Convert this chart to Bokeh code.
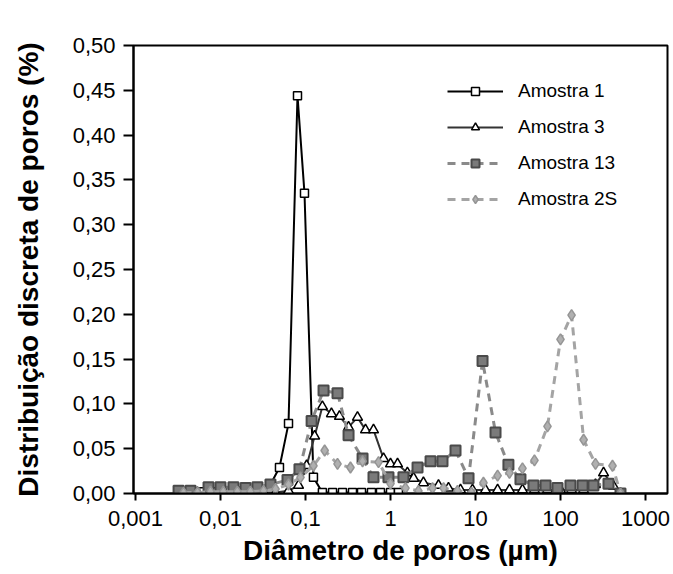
from bokeh.plotting import figure
from bokeh.models import Range1d, FixedTicker, Legend, LegendItem
from bokeh.embed import file_html
from bokeh.resources import INLINE

# ---- data (diameter in µm, discrete distribution in %) ----
diam_a1 = [0.00321, 0.00444, 0.00631, 0.00897, 0.0131, 0.0187, 0.0272, 0.0387, 0.0494, 0.0631,
           0.0805, 0.0973, 0.124, 0.158, 0.208, 0.272, 0.357, 0.456, 0.597, 0.762, 1.00, 1.24]
dist_a1 = [0.002, 0.002, 0.002, 0.002, 0.003, 0.003, 0.004, 0.010, 0.029, 0.078,
           0.444, 0.335, 0.018, 0.001, 0.001, 0.001, 0.001, 0.001, 0.001, 0.001, 0.001, 0.001]

diam_a3 = [0.00367, 0.00536, 0.00762, 0.0108, 0.0158, 0.0225, 0.0321, 0.0444, 0.0631, 0.0828,
           0.103, 0.128, 0.158, 0.202, 0.251, 0.321, 0.409, 0.508, 0.631, 0.828,
           1.00, 1.21, 1.58, 1.87, 2.44, 3.67, 4.81, 6.66, 9.22, 13.1,
           18.2, 25.1, 35.7, 49.4, 70.3, 100, 135, 187, 258, 321, 421, 508]
dist_a3 = [0.001, 0.001, 0.001, 0.001, 0.001, 0.001, 0.001, 0.001, 0.003, 0.009,
           0.031, 0.064, 0.097, 0.089, 0.086, 0.074, 0.085, 0.071, 0.071, 0.039,
           0.033, 0.033, 0.023, 0.017, 0.012, 0.009, 0.006, 0.004, 0.004, 0.004,
           0.004, 0.004, 0.004, 0.004, 0.004, 0.004, 0.004, 0.004, 0.010, 0.023, 0.008, 0.000]

diam_a13 = [0.00321, 0.00444, 0.00723, 0.0100, 0.0142, 0.0197, 0.0272, 0.0387, 0.0614, 0.0849,
            0.118, 0.163, 0.238, 0.321, 0.469, 0.631, 0.946, 1.42, 2.08, 2.96,
            4.09, 5.82, 8.28, 12.1, 17.2, 24.4, 33.8, 48.1, 66.7, 92.2,
            131, 182, 244, 367, 508]
dist_a13 = [0.003, 0.003, 0.007, 0.007, 0.007, 0.006, 0.007, 0.010, 0.015, 0.027,
            0.081, 0.115, 0.112, 0.065, 0.039, 0.018, 0.018, 0.018, 0.029, 0.036,
            0.036, 0.048, 0.017, 0.148, 0.068, 0.032, 0.016, 0.009, 0.009, 0.006,
            0.009, 0.009, 0.009, 0.011, 0.000]

diam_a2s = [0.00367, 0.00536, 0.00762, 0.0108, 0.0158, 0.0225, 0.0321, 0.0444, 0.0631, 0.0873,
            0.124, 0.168, 0.238, 0.338, 0.469, 0.723, 1.00, 1.50, 2.13, 3.12,
            4.21, 6.14, 8.97, 12.4, 18.2, 25.1, 35.7, 49.4, 70.3, 100,
            135, 187, 258, 409, 508]
dist_a2s = [0.001, 0.001, 0.002, 0.002, 0.002, 0.002, 0.003, 0.005, 0.010, 0.018,
            0.031, 0.048, 0.033, 0.029, 0.036, 0.035, 0.011, 0.006, 0.003, 0.006,
            0.006, 0.003, 0.001, 0.012, 0.020, 0.023, 0.028, 0.037, 0.075, 0.172,
            0.199, 0.060, 0.033, 0.031, 0.000]

x_ticks = [0.001, 0.01, 0.1, 1, 10, 100, 1000]
x_tick_labels = ["0,001", "0,01", "0,1", "1", "10", "100", "1000"]
y_ticks = [0.0, 0.05, 0.1, 0.15, 0.2, 0.25, 0.3, 0.35, 0.4, 0.45, 0.5]
y_tick_labels = ["0,00", "0,05", "0,10", "0,15", "0,20", "0,25", "0,30", "0,35", "0,40", "0,45", "0,50"]

FONT = "Liberation Sans"

p = figure(width=670, height=568, x_axis_type="log",
           x_range=Range1d(0.000947, 1815), y_range=Range1d(0, 0.5),
           output_backend="svg", toolbar_location=None,
           min_border_left=133, min_border_right=3, min_border_top=45, min_border_bottom=75)

p.xgrid.visible = False
p.ygrid.visible = False
p.outline_line_color = "black"
p.outline_line_width = 2
p.background_fill_color = "white"
p.border_fill_color = "white"

# axes
p.xaxis.ticker = FixedTicker(ticks=x_ticks)
p.xaxis.major_label_overrides = {t: l for t, l in zip(x_ticks, x_tick_labels)}
p.yaxis.ticker = FixedTicker(ticks=y_ticks)
p.yaxis.major_label_overrides = {t: l for t, l in zip(y_ticks, y_tick_labels)}

for ax in (p.xaxis[0], p.yaxis[0]):
    ax.axis_line_color = "black"
    ax.axis_line_width = 2
    ax.major_tick_line_color = "black"
    ax.major_tick_line_width = 2
    ax.minor_tick_line_color = None
    ax.major_tick_in = 0
    ax.major_label_text_font = FONT
    ax.major_label_text_font_size = "22px"
    ax.major_label_text_color = "black"
    ax.axis_label_text_font = FONT
    ax.axis_label_text_font_size = "28px"
    ax.axis_label_text_font_style = "bold"
    ax.axis_label_text_color = "black"

p.xaxis.major_tick_out = 7
p.xaxis.major_label_standoff = 10
p.xaxis.axis_label = "Diâmetro de poros (µm)"
p.xaxis.axis_label_standoff = 6
p.yaxis.major_tick_out = 10
p.yaxis.major_label_standoff = 8
p.yaxis.axis_label = "Distribuição discreta de poros (%)"
p.yaxis.axis_label_standoff = 26

# series
l1 = p.line(diam_a1, dist_a1, line_color="black", line_width=2)
m1 = p.scatter(diam_a1, dist_a1, marker="square", size=8, fill_color="white",
               line_color="black", line_width=1.5)

l3 = p.line(diam_a3, dist_a3, line_color="#333333", line_width=2)
m3 = p.scatter(diam_a3, dist_a3, marker="triangle", size=10, fill_color="white",
               line_color="black", line_width=1.5)

l13 = p.line(diam_a13, dist_a13, line_color="#8a8a8a", line_width=3, line_dash="8 6")
m13 = p.scatter(diam_a13, dist_a13, marker="square", size=10, fill_color="#7a7a7a",
                line_color="#4a4a4a", line_width=2)

l2s = p.line(diam_a2s, dist_a2s, line_color="#a4a4a4", line_width=3, line_dash="8 6")
m2s = p.scatter(diam_a2s, dist_a2s, marker="diamond", size=11, fill_color="#b0b0b0",
                line_color="#959595", line_width=1.5)

legend = Legend(items=[
    LegendItem(label="Amostra 1", renderers=[l1, m1]),
    LegendItem(label="Amostra 3", renderers=[l3, m3]),
    LegendItem(label="Amostra 13", renderers=[l13, m13]),
    LegendItem(label="Amostra 2S", renderers=[l2s, m2s]),
], location=(314, 283))
legend.border_line_color = None
legend.background_fill_alpha = 0
legend.label_text_font = FONT
legend.label_text_font_size = "19px"
legend.label_text_color = "black"
legend.glyph_width = 56
legend.glyph_height = 20
legend.label_height = 20
legend.label_standoff = 15
legend.spacing = 14
legend.padding = 10
legend.margin = 0
p.add_layout(legend, "center")

open("out.html", "w").write(file_html(p, INLINE))
